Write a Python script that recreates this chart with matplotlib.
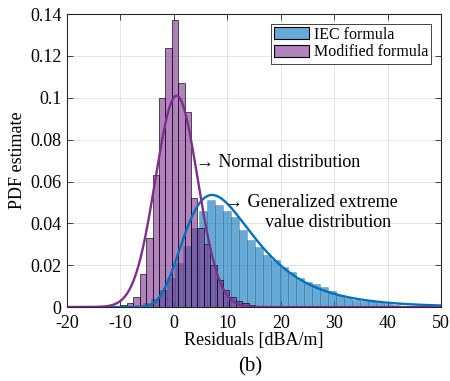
import numpy as np
import matplotlib
matplotlib.use("Agg")
import matplotlib.pyplot as plt
from matplotlib.patches import Patch

plt.rcParams['font.family'] = ['Liberation Serif', 'DejaVu Serif']
plt.rcParams['axes.unicode_minus'] = False

# Histogram of residuals, modified formula (bin width 1.2)
mod_start, mod_width = -10.0, 1.2
mod_pdf = [0.001, 0.002, 0.005, 0.016, 0.033, 0.063, 0.100, 0.124, 0.137,
           0.107, 0.093, 0.052, 0.038, 0.030, 0.020, 0.013, 0.008, 0.005,
           0.003, 0.002, 0.001]

# Histogram of residuals, IEC formula (bin width 1.5)
iec_start, iec_width = -8.73, 1.5
iec_pdf = [0.0005, 0.001, 0.002, 0.004, 0.008, 0.014, 0.021, 0.029, 0.038,
           0.046, 0.051, 0.049, 0.046, 0.043, 0.037, 0.032, 0.0287, 0.025,
           0.0225, 0.019, 0.0167, 0.0138, 0.012, 0.011, 0.0096, 0.0077,
           0.0057, 0.0043, 0.0033, 0.003, 0.0028, 0.002, 0.0015, 0.001,
           0.0007, 0.0004]

# fitted distributions
norm_mu, norm_sigma = 0.5, 3.95
gev_k, gev_sigma, gev_mu = 0.1, 6.9, 7.8

blue = (0.0, 0.447, 0.741)
purple = (0.494, 0.184, 0.556)


def normal_pdf(x, mu, s):
    return np.exp(-0.5 * ((x - mu) / s) ** 2) / (s * np.sqrt(2 * np.pi))


def gev_pdf(x, k, s, mu):
    z = 1 + k * (x - mu) / s
    out = np.zeros_like(x)
    ok = z > 0
    t = z[ok] ** (-1 / k)
    out[ok] = t ** (k + 1) * np.exp(-t) / s
    return out


fig = plt.figure(figsize=(4.5, 3.81), dpi=100)
ax = fig.add_axes([0.149, 0.194, 0.831, 0.769])

iec_left = iec_start + iec_width * np.arange(len(iec_pdf))
mod_left = mod_start + mod_width * np.arange(len(mod_pdf))
ax.bar(iec_left, iec_pdf, width=iec_width, align='edge',
       facecolor=blue + (0.6,), edgecolor=(0, 0, 0, 0.3), linewidth=0.4, zorder=2)
ax.bar(mod_left, mod_pdf, width=mod_width, align='edge',
       facecolor=purple + (0.6,), edgecolor=(0, 0, 0, 0.75), linewidth=0.6, zorder=3)

xs = np.linspace(-20, 50, 800)
ax.plot(xs, gev_pdf(xs, gev_k, gev_sigma, gev_mu), color=blue, lw=1.7, zorder=4)
ax.plot(xs, normal_pdf(xs, norm_mu, norm_sigma), color=purple, lw=1.7, zorder=5)

ax.text(4.2, 0.0693, '→ Normal distribution', fontsize=13, va='center', zorder=6)
ax.text(9.6, 0.0502, '→ Generalized extreme', fontsize=13, va='center', zorder=6)
ax.text(17.1, 0.0406, 'value distribution', fontsize=13, va='center', zorder=6)

ax.set_xlim(-20, 50)
ax.set_ylim(0, 0.14)
ax.set_xticks(np.arange(-20, 51, 10))
ax.set_yticks(np.arange(0, 0.141, 0.02))
ax.set_yticklabels(['0', '0.02', '0.04', '0.06', '0.08', '0.1', '0.12', '0.14'])
ax.tick_params(direction='in', top=True, right=True, labelsize=13,
               length=4, width=0.6, color='0.15')
ax.tick_params(axis='x', pad=6)
ax.tick_params(axis='y', pad=4)
for sp in ax.spines.values():
    sp.set_color('0.15')
    sp.set_linewidth(0.8)
ax.grid(True, color='0.88', linewidth=0.6, zorder=0)
ax.set_axisbelow(True)

ax.set_xlabel('Residuals [dBA/m]', fontsize=13, labelpad=0)
ax.set_ylabel('PDF estimate', fontsize=13, labelpad=3)

handles = [Patch(facecolor=blue + (0.6,), edgecolor='k', linewidth=0.8, label='IEC formula'),
           Patch(facecolor=purple + (0.6,), edgecolor='k', linewidth=0.8, label='Modified formula')]
leg = ax.legend(handles=handles, loc='upper right', fontsize=11.5, fancybox=False,
                framealpha=1, edgecolor='0.15', handlelength=2.2, handleheight=0.8,
                handletextpad=0.3, borderpad=0.2, labelspacing=0.1,
                borderaxespad=0.6)
leg.get_frame().set_linewidth(0.6)

fig.text(0.556, 0.037, '(b)', fontsize=15, ha='center', va='center')

fig.savefig('out.png', dpi=100)
